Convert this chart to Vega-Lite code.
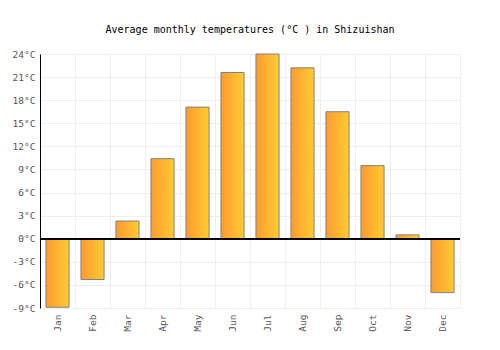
{
  "$schema": "https://vega.github.io/schema/vega-lite/v6.json",
  "width": 420,
  "height": 254,
  "autosize": "none",
  "padding": {"left": 40, "top": 54, "right": 40, "bottom": 42},
  "background": "white",
  "title": {
    "text": "Average monthly temperatures (°C ) in Shizuishan",
    "font": "DejaVu Sans Mono",
    "fontSize": 10,
    "fontWeight": "normal",
    "color": "#000000",
    "anchor": "middle",
    "offset": 14
  },
  "data": {
    "values": [
      {"month": "Jan", "temp": -8.9},
      {"month": "Feb", "temp": -5.3},
      {"month": "Mar", "temp": 2.3},
      {"month": "Apr", "temp": 10.4},
      {"month": "May", "temp": 17.1},
      {"month": "Jun", "temp": 21.6},
      {"month": "Jul", "temp": 24.0},
      {"month": "Aug", "temp": 22.2},
      {"month": "Sep", "temp": 16.5},
      {"month": "Oct", "temp": 9.5},
      {"month": "Nov", "temp": 0.5},
      {"month": "Dec", "temp": -7.0}
    ]
  },
  "config": {
    "view": {"stroke": null},
    "axis": {
      "labelFont": "DejaVu Sans Mono",
      "labelFontSize": 9.5,
      "labelColor": "#555555",
      "labelOverlap": false,
      "gridColor": "#eeeeee",
      "gridWidth": 1,
      "ticks": false,
      "title": null
    }
  },
  "layer": [
    {
      "mark": {
        "type": "bar",
        "width": {"band": 0.66},
        "stroke": "#808080",
        "strokeWidth": 1,
        "fill": {
          "gradient": "linear",
          "x1": 0, "x2": 1, "y1": 0, "y2": 0,
          "stops": [
            {"offset": 0, "color": "#ff9a2e"},
            {"offset": 1, "color": "#ffcc33"}
          ]
        }
      },
      "encoding": {
        "x": {
          "field": "month",
          "type": "ordinal",
          "sort": null,
          "scale": {"paddingInner": 0, "paddingOuter": 0},
          "axis": {
            "labelAngle": -90,
            "labelAlign": "right",
            "labelBaseline": "middle",
            "labelPadding": 6,
            "grid": true,
            "tickBand": "extent",
            "domain": false
          }
        },
        "y": {
          "field": "temp",
          "type": "quantitative",
          "scale": {"domain": [-9, 24], "nice": false},
          "axis": {
            "values": [-9, -6, -3, 0, 3, 6, 9, 12, 15, 18, 21, 24],
            "labelExpr": "datum.value + '°C'",
            "labelOverlap": false,
            "labelPadding": 5,
            "domain": true,
            "domainColor": "#000000",
            "domainWidth": 1,
            "grid": true
          }
        }
      }
    },
    {
      "mark": {"type": "rule", "color": "#000000", "strokeWidth": 1},
      "encoding": {
        "y": {
          "datum": 0,
          "type": "quantitative",
          "scale": {"domain": [-9, 24], "nice": false},
          "axis": {
            "values": [-9, -6, -3, 0, 3, 6, 9, 12, 15, 18, 21, 24],
            "labelExpr": "datum.value + '°C'",
            "labelOverlap": false,
            "labelPadding": 5,
            "domain": true,
            "domainColor": "#000000",
            "domainWidth": 1,
            "grid": true
          }
        }
      }
    }
  ]
}
